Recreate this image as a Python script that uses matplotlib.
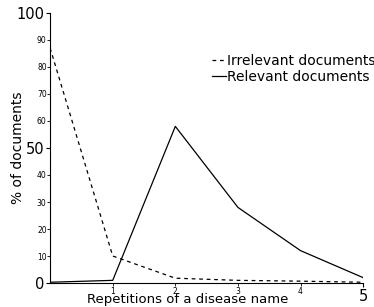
import matplotlib
matplotlib.use('Agg')
import matplotlib.pyplot as plt

# repetitions of the disease name in a document
repetitions = [0, 1, 2, 3, 4, 5]
# % of documents
irrelevant_pct = [87, 10, 1.8, 1.0, 0.7, 0.3]
relevant_pct = [0.3, 1.0, 58, 28, 12, 2]

major_y = [0, 50, 100]
minor_y = [10, 20, 30, 40, 60, 70, 80, 90]
major_x = [5]
minor_x = [1, 2, 3, 4]

fig = plt.figure(figsize=(3.74, 3.07), dpi=100)
ax = fig.add_axes([0.134, 0.078, 0.837, 0.880])

ax.plot(repetitions, irrelevant_pct, color='black', linestyle='--', linewidth=0.9,
        dashes=(3, 3), label='Irrelevant documents')
ax.plot(repetitions, relevant_pct, color='black', linestyle='-', linewidth=0.9,
        label='Relevant documents')

ax.set_xlim(0, 5)
ax.set_ylim(0, 100)

ax.spines['top'].set_visible(False)
ax.spines['right'].set_visible(False)

ax.set_yticks(major_y)
ax.set_yticks(minor_y, minor=True)
ax.set_yticklabels([str(v) for v in minor_y], minor=True)
ax.set_xticks(major_x)
ax.set_xticks(minor_x, minor=True)
ax.set_xticklabels([str(v) for v in minor_x], minor=True)

ax.tick_params(axis='both', which='major', labelsize=10.5, length=3, pad=1)
ax.tick_params(axis='both', which='minor', labelsize=5.5, length=2, pad=0.5)

ax.set_xlabel('Repetitions of a disease name', fontsize=9.5)
ax.xaxis.set_label_coords(0.44, -0.036)
ax.set_ylabel('% of documents', fontsize=10)
ax.yaxis.set_label_coords(-0.08, 0.5)

ax.legend(loc='upper left', bbox_to_anchor=(0.5, 0.87), frameon=False, fontsize=10,
          handlelength=1.0, handletextpad=0.1, labelspacing=0.15, borderaxespad=0)

fig.savefig('out.png', dpi=100)
